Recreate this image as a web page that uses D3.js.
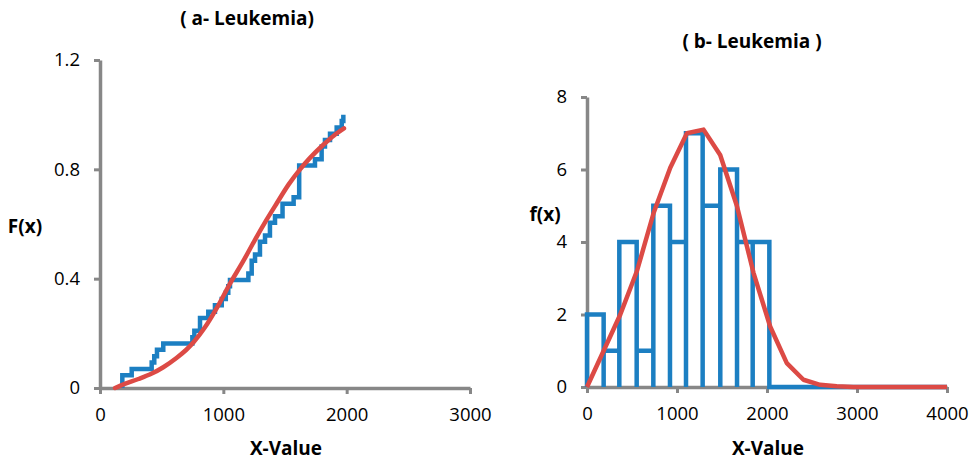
<!DOCTYPE html>
<html>
<head>
<meta charset="utf-8">
<script src="https://cdn.jsdelivr.net/npm/d3@7"></script>
<style>
  body { margin: 0; background: #fff; }
  .tick text { font-family: "Open Sans", sans-serif; font-size: 18.5px; fill: #000; }
  .lbl { font-family: "Open Sans", sans-serif; font-weight: bold; font-size: 19px; fill: #000; }
</style>
</head>
<body>
<div id="viz"></div>
<script>
// panel a: empirical CDF steps (x where a step occurs, cumulative count after it)
const sampleSize = 43;
const ecdfX = [181, 257, 419, 440, 462, 513, 749, 765, 811, 878, 932, 987, 1020, 1040, 1054,
  1203, 1230, 1257, 1297, 1338, 1378, 1419, 1480, 1570, 1615, 1743, 1797, 1824, 1865, 1919, 1960, 1973];
const ecdfN = [2, 3, 4, 5, 6, 7, 8, 9, 11, 12, 13, 14, 15, 16, 17,
  18, 20, 21, 23, 24, 26, 27, 29, 30, 35, 36, 38, 39, 40, 41, 42, 43];

// panel a: fitted CDF
const cdfX = [122, 200, 311, 420, 513, 620, 700, 760, 851, 950, 1054, 1160, 1260, 1350, 1432, 1530, 1622, 1703, 1811, 1900, 1978];
const cdfF = [0, 0.015, 0.033, 0.053, 0.076, 0.11, 0.14, 0.168, 0.222, 0.295, 0.382, 0.463, 0.545, 0.615, 0.675, 0.745, 0.80, 0.842, 0.89, 0.925, 0.95];

// panel b: histogram
const binEdges = [0, 185, 359, 552, 737, 922, 1100, 1285, 1481, 1667, 1841, 2026];
const binCounts = [2, 1, 4, 1, 5, 4, 7, 5, 6, 4, 4];

// panel b: fitted density (scaled to counts)
const pdfX = [0, 185, 370, 555, 740, 925, 1110, 1295, 1480, 1665, 1850, 2035, 2220, 2405, 2590, 2775, 2960, 3145, 3330, 3515, 3700, 3885, 4000];
const pdfY = [0, 1.0, 2.0, 3.2, 4.8, 6.05, 7.0, 7.1, 6.4, 5.0, 3.15, 1.67, 0.66, 0.2, 0.06, 0.02, 0, 0, 0, 0, 0, 0, 0];

const ticksA_x = [0, 1000, 2000, 3000];
const ticksA_y = [0, 0.4, 0.8, 1.2];
const ticksB_x = [0, 1000, 2000, 3000, 4000];
const ticksB_y = [0, 2, 4, 6, 8];

const blue = "#1c7fc2";
const red = "#dc4a45";
const axisGray = "#878787";

const svg = d3.select("#viz").append("svg")
  .attr("width", 974)
  .attr("height", 463);

function drawAxes(x, y, xt, yt) {
  const gx = svg.append("g")
    .attr("transform", `translate(0,${y.range()[0]})`)
    .call(d3.axisBottom(x).tickValues(xt).tickFormat(d => String(d))
      .tickSize(6).tickSizeOuter(0).tickPadding(14));
  const gy = svg.append("g")
    .attr("transform", `translate(${x.range()[0]},0)`)
    .call(d3.axisLeft(y).tickValues(yt).tickFormat(d => String(d))
      .tickSize(6).tickSizeOuter(0).tickPadding(14));
  [gx, gy].forEach(g => {
    g.select(".domain").attr("stroke", axisGray).attr("stroke-width", 3.5);
    g.selectAll(".tick line").attr("stroke", axisGray).attr("stroke-width", 3);
  });
}

// ----- panel a -----
const xA = d3.scaleLinear().domain([0, 3000]).range([100, 470]);
const yA = d3.scaleLinear().domain([0, 1.2]).range([388, 60]);
drawAxes(xA, yA, ticksA_x, ticksA_y);

const stepPts = [];
ecdfX.forEach((v, i) => {
  const prev = i === 0 ? 0 : ecdfN[i - 1];
  stepPts.push([v, prev / sampleSize]);
  stepPts.push([v, ecdfN[i] / sampleSize]);
  if (i < ecdfX.length - 1) stepPts.push([ecdfX[i + 1], ecdfN[i] / sampleSize]);
});

svg.append("path")
  .datum(stepPts)
  .attr("fill", "none")
  .attr("stroke", blue)
  .attr("stroke-width", 4.5)
  .attr("d", d3.line().x(d => xA(d[0])).y(d => yA(d[1])));

svg.append("path")
  .datum(cdfX.map((v, i) => [v, cdfF[i]]))
  .attr("fill", "none")
  .attr("stroke", red)
  .attr("stroke-width", 4.5)
  .attr("stroke-linecap", "round")
  .attr("d", d3.line().curve(d3.curveCatmullRom).x(d => xA(d[0])).y(d => yA(d[1])));

svg.append("text").attr("class", "lbl")
  .attr("x", 247).attr("y", 25).attr("text-anchor", "middle")
  .text("( a- Leukemia)");
svg.append("text").attr("class", "lbl")
  .attr("x", 286).attr("y", 455).attr("text-anchor", "middle")
  .text("X-Value");
svg.append("text").attr("class", "lbl")
  .attr("x", 25).attr("y", 233).attr("text-anchor", "middle")
  .text("F(x)");

// ----- panel b -----
const xB = d3.scaleLinear().domain([0, 4000]).range([587, 947]);
const yB = d3.scaleLinear().domain([0, 8]).range([387, 97]);
drawAxes(xB, yB, ticksB_x, ticksB_y);

const histPts = [];
binCounts.forEach((c, i) => {
  histPts.push([binEdges[i], 0]);
  histPts.push([binEdges[i], c]);
  histPts.push([binEdges[i + 1], c]);
  histPts.push([binEdges[i + 1], 0]);
});
histPts.push([4000, 0]);

svg.append("path")
  .datum(histPts)
  .attr("fill", "none")
  .attr("stroke", blue)
  .attr("stroke-width", 4.5)
  .attr("d", d3.line().x(d => xB(d[0])).y(d => yB(d[1])));

svg.append("path")
  .datum(pdfX.map((v, i) => [v, pdfY[i]]))
  .attr("fill", "none")
  .attr("stroke", red)
  .attr("stroke-width", 4.5)
  .attr("stroke-linejoin", "round")
  .attr("d", d3.line().x(d => xB(d[0])).y(d => yB(d[1])));

svg.append("text").attr("class", "lbl")
  .attr("x", 752).attr("y", 48).attr("text-anchor", "middle")
  .text("( b- Leukemia )");
svg.append("text").attr("class", "lbl")
  .attr("x", 768).attr("y", 455).attr("text-anchor", "middle")
  .text("X-Value");
svg.append("text").attr("class", "lbl")
  .attr("x", 545).attr("y", 221).attr("text-anchor", "middle")
  .text("f(x)");
</script>
</body>
</html>
